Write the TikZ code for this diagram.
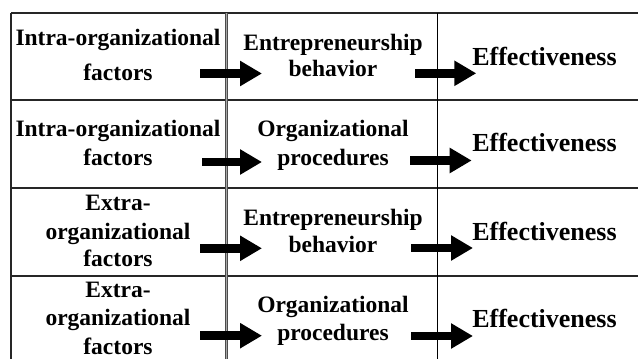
\documentclass[tikz,border=0pt]{standalone}
\usepackage{fontspec}
\setmainfont{Liberation Serif}
\usetikzlibrary{arrows.meta}
\tikzset{
  cell/.style={anchor=base, inner sep=0pt, font=\fontsize{23.5}{28}\selectfont\bfseries},
  eff/.style={anchor=base, inner sep=0pt, font=\fontsize{26}{30}\selectfont\bfseries},
  grid/.style={draw=black!85, line width=1.1pt},
  blockarrow/.style={line width=8.5pt, -{Triangle[length=22pt,width=24pt]}, shorten >=0pt}
}
\begin{document}
\begin{tikzpicture}[x=1pt,y=-1pt]
\useasboundingbox (0,0) rectangle (638,359);
% grid
\draw[grid] (11,13) -- (638,13);
\draw[grid] (11,13) -- (11,359);
\foreach \yy in {100,188,276} \draw[grid] (11,\yy) -- (638,\yy);
\fill[black!35] (225,13) rectangle (227.6,359);
\draw[draw=black!70, line width=0.7pt] (225,13) -- (225,359);
\draw[draw=black!70, line width=0.7pt] (227.6,13) -- (227.6,359);
\draw[draw=black, line width=0.9pt] (437,13) -- (437,359);
% row 1
\node[cell] (r1a1) at (118,45) {Intra-organizational};
\node[cell] (r1a2) at (118,80) {factors};
\node[cell] (r1b1) at (333,50) {Entrepreneurship};
\node[cell] (r1b2) at (333,76.7) {behavior};
\node[eff]  (r1c)  at (544.5,65) {Effectiveness};
% row 2
\node[cell] (r2a1) at (118,136.7) {Intra-organizational};
\node[cell] (r2a2) at (118,165) {factors};
\node[cell] (r2b1) at (333,136.7) {Organizational};
\node[cell] (r2b2) at (333,165.5) {procedures};
\node[eff]  (r2c)  at (544.5,151.7) {Effectiveness};
% row 3
\node[cell] (r3a1) at (118,210.7) {Extra-};
\node[cell] (r3a2) at (118,239) {organizational};
\node[cell] (r3a3) at (118,266.7) {factors};
\node[cell] (r3b1) at (333,225.7) {Entrepreneurship};
\node[cell] (r3b2) at (333,252.3) {behavior};
\node[eff]  (r3c)  at (544.5,240.7) {Effectiveness};
% row 4
\node[cell] (r4a1) at (118,297.3) {Extra-};
\node[cell] (r4a2) at (118,325.7) {organizational};
\node[cell] (r4a3) at (118,354) {factors};
\node[cell] (r4b1) at (333,312.3) {Organizational};
\node[cell] (r4b2) at (333,340.7) {procedures};
\node[eff]  (r4c)  at (544.5,327.3) {Effectiveness};
% arrow end points
\coordinate (s11) at (200,73.5);   \coordinate (e11) at (262,73.5);
\coordinate (s12) at (415,73.3);   \coordinate (e12) at (476.3,73.3);
\coordinate (s21) at (202,162);    \coordinate (e21) at (262,162);
\coordinate (s22) at (410,160.5);  \coordinate (e22) at (471.7,160.5);
\coordinate (s31) at (200,248.3);  \coordinate (e31) at (262,248.3);
\coordinate (s32) at (411,248);    \coordinate (e32) at (473,248);
\coordinate (s41) at (200,335.7);  \coordinate (e41) at (262,335.7);
\coordinate (s42) at (411,336);    \coordinate (e42) at (473,336);
\foreach \r in {1,2,3,4} {
  \draw[blockarrow] (s\r1) -- (e\r1);
  \draw[blockarrow] (s\r2) -- (e\r2);
}
\end{tikzpicture}
\end{document}
